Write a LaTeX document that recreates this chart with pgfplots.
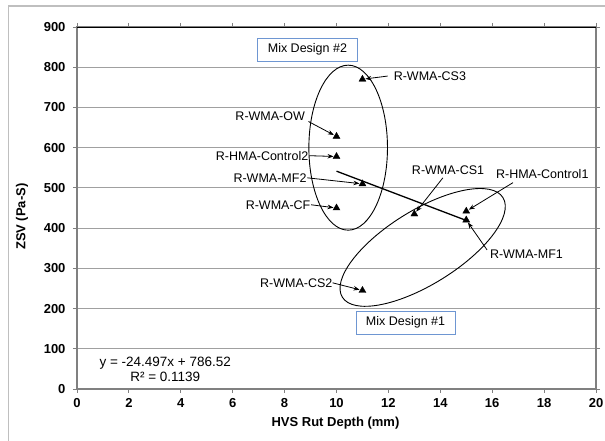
\documentclass[border=0pt]{standalone}
\usepackage{pgfplots}
\pgfplotsset{compat=1.18}
\usepackage{fontspec}
\setmainfont{Liberation Sans}
\usetikzlibrary{arrows.meta,shapes.geometric}

\definecolor{boxblue}{RGB}{110,150,210}
\definecolor{gridgray}{RGB}{160,160,160}
\definecolor{axgray}{RGB}{128,128,128}

\tikzset{lead/.style={line width=0.8pt, -{Stealth[length=6pt,width=4.5pt]}, shorten >=3pt},
  lbl/.style={font=\fontsize{12.5}{13}\selectfont, inner sep=0pt}}

\pgfplotstableread{
x y
11 770
10 628
10 578
11 510
10 450
13 435
15 442
15 420
11 245
}\zsvdata

\begin{document}
\begin{tikzpicture}[x=1pt,y=1pt]
\useasboundingbox (0,0) rectangle (605,441);
% chart area frame
\draw[color=gray!50, line width=1.3pt] (8.5,-5) -- (8.5,435) -- (612,435);

\begin{axis}[
    at={(77pt,52pt)}, anchor=south west,
    width=519pt, height=362pt, scale only axis,
    xmin=0, xmax=20, ymin=0, ymax=900,
    xtick={0,2,...,20}, ytick={0,100,...,900},
    tick align=outside, major tick length=4pt,
    tick style={axgray, line width=0.8pt},
    axis line style={axgray, line width=1.2pt},
    ymajorgrids, grid style={gridgray, line width=0.9pt},
    /pgf/number format/assume math mode=true,
    ticklabel style={font=\bfseries\fontsize{13}{13}\selectfont},
    yticklabel style={xshift=-4pt},
    xticklabel style={yshift=-2pt},
    xlabel={HVS Rut Depth (mm)},
    ylabel={ZSV (Pa-S)},
    label style={font=\bfseries\fontsize{13}{13}\selectfont},
    xlabel style={at={(axis description cs:0.498,-0.095)}, anchor=center},
    ylabel style={at={(axis description cs:-0.106,0.476)}, anchor=center},
    clip=false,
]
% top border
\draw[black, line width=0.9pt] (axis cs:0,900) -- (axis cs:20,900);

\addplot[only marks, mark=triangle*, mark size=4pt, black] table[x=x,y=y] {\zsvdata};

% linear trend
\addplot[black, line width=1.3pt] coordinates {(10,541.55) (15,419.07)};

% groupings
\node[draw, ellipse, line width=0.9pt, minimum width=78.6pt, minimum height=165pt, inner sep=0pt]
  at (axis cs:10.45,600) {};
\node[draw, ellipse, line width=0.9pt, minimum width=189pt, minimum height=74pt, inner sep=0pt, rotate=31.8]
  at (axis cs:13.32,352) {};

\node[draw=boxblue, fill=white, line width=1pt, minimum width=100pt, minimum height=23pt,
  font=\fontsize{12.5}{13}\selectfont] at (axis cs:8.88,844) {Mix Design \#2};
\node[draw=boxblue, fill=white, line width=1pt, minimum width=99pt, minimum height=23pt,
  font=\fontsize{12.5}{13}\selectfont] at (axis cs:12.66,165) {Mix Design \#1};

% labels
\node[lbl, anchor=west] at (axis cs:12.2,778) {R-WMA-CS3};
\draw[lead] (axis cs:11.97,778) -- (axis cs:11,770);
\node[lbl, anchor=east] at (axis cs:8.79,677) {R-WMA-OW};
\draw[lead] (axis cs:8.92,665) -- (axis cs:10,628);
\node[lbl, anchor=east] at (axis cs:8.92,580) {R-HMA-Control2};
\draw[lead] (axis cs:8.96,580) -- (axis cs:10,578);
\node[lbl, anchor=east] at (axis cs:8.85,525) {R-WMA-MF2};
\draw[lead] (axis cs:8.88,525) -- (axis cs:11,510);
\node[lbl, anchor=east] at (axis cs:9.0,458) {R-WMA-CF};
\draw[lead] (axis cs:9.02,458) -- (axis cs:10,450);
\node[lbl] at (axis cs:14.3,543) {R-WMA-CS1};
\draw[lead] (axis cs:14.1,525) -- (axis cs:13,435);
\node[lbl] at (axis cs:17.93,534) {R-HMA-Control1};
\draw[lead] (axis cs:16.8,513) -- (axis cs:15,442);
\node[lbl] at (axis cs:17.32,335) {R-WMA-MF1};
\draw[lead] (axis cs:15.8,346) -- (axis cs:15,420);
\node[lbl, anchor=east] at (axis cs:9.85,264) {R-WMA-CS2};
\draw[lead] (axis cs:9.85,264) -- (axis cs:11,245);

\node[font=\fontsize{13.5}{14}\selectfont, align=center, anchor=center]
  at (axis cs:3.4,50) {y = -24.497x + 786.52\\[1pt]R² = 0.1139};
\end{axis}
\end{tikzpicture}
\end{document}
